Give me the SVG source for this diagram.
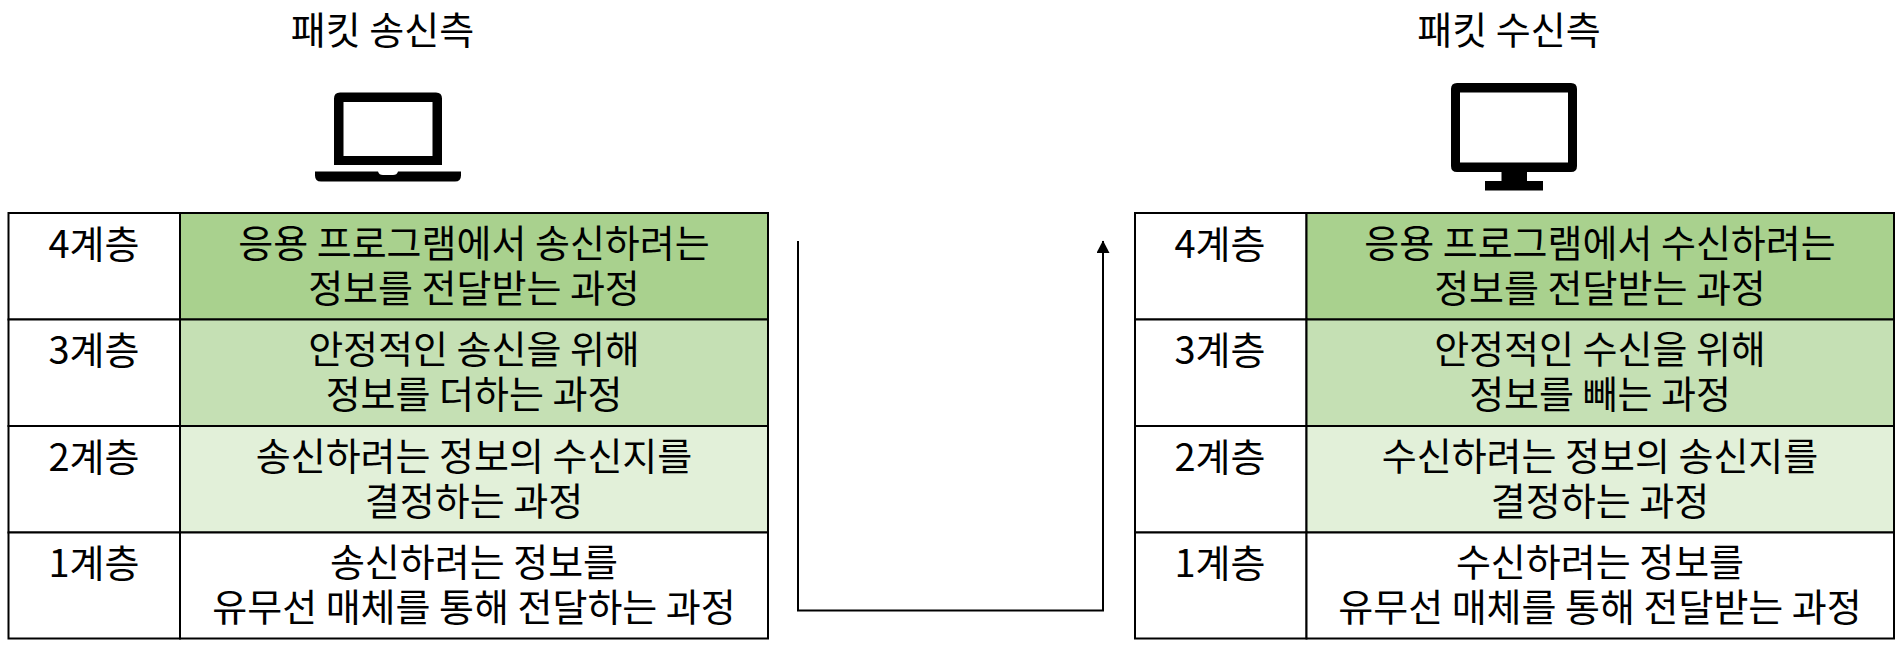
<svg xmlns="http://www.w3.org/2000/svg" width="1900" height="646" viewBox="0 0 1900 646">
<style>
text{font-family:"Noto Sans CJK KR","Noto Sans",sans-serif;font-size:38px;fill:#000;text-anchor:middle}
.cell{stroke:#000;stroke-width:2}
.w{fill:#fff}.g1{fill:#a9d18e}.g2{fill:#c5e0b4}.g3{fill:#e2f0d9}
.conn{fill:none;stroke:#000;stroke-width:2}
</style>
<defs><marker id="arrow" markerUnits="userSpaceOnUse" markerWidth="14" markerHeight="14" refX="12" refY="6.5" orient="auto"><path d="M0 0L12.500 6.500L0 13Z" fill="#000"/></marker></defs>
<rect width="1900" height="646" fill="#fff"/>
<g id="sender-title"><text x="382.500" y="44">패킷 송신측</text></g>
<g id="receiver-title"><text x="1509" y="44">패킷 수신측</text></g>
<g id="laptop"><path fill-rule="evenodd" d="M340 92.500H436Q442 92.500 442 98.500V165H334V98.500Q334 92.500 340 92.500ZM343.500 102V156H432.500V102Z"/><path d="M315 171.500H378Q379 175 383 175H393Q397 175 398 171.500H461V175.500Q461 181.500 455 181.500H321Q315 181.500 315 175.500Z"/></g>
<g id="monitor"><path fill-rule="evenodd" d="M1457 83H1571Q1577 83 1577 89V166Q1577 172 1571 172H1527V181H1543V190.500H1485V181H1501.500V172H1457Q1451 172 1451 166V89Q1451 83 1457 83ZM1460 92.500V162.500H1568V92.500Z"/></g>
<g id="s4"><rect class="cell w" x="8.500" y="213" width="171.500" height="106.500"/><rect class="cell g1" x="180" y="213" width="588" height="106.500"/><text x="94" y="257.500">4계층</text><text x="474" y="256.500">응용 프로그램에서 송신하려는</text><text x="474" y="302">정보를 전달받는 과정</text></g>
<g id="s3"><rect class="cell w" x="8.500" y="319.500" width="171.500" height="106.500"/><rect class="cell g2" x="180" y="319.500" width="588" height="106.500"/><text x="94" y="363.500">3계층</text><text x="474" y="362.500">안정적인 송신을 위해</text><text x="474" y="408">정보를 더하는 과정</text></g>
<g id="s2"><rect class="cell w" x="8.500" y="426" width="171.500" height="106.500"/><rect class="cell g3" x="180" y="426" width="588" height="106.500"/><text x="94" y="470.500">2계층</text><text x="474" y="469.500">송신하려는 정보의 수신지를</text><text x="474" y="515">결정하는 과정</text></g>
<g id="s1"><rect class="cell w" x="8.500" y="532.500" width="171.500" height="106"/><rect class="cell w" x="180" y="532.500" width="588" height="106"/><text x="94" y="576.500">1계층</text><text x="474" y="575.500">송신하려는 정보를</text><text x="474" y="621">유무선 매체를 통해 전달하는 과정</text></g>
<g id="r4"><rect class="cell w" x="1135" y="213" width="171.500" height="106.500"/><rect class="cell g1" x="1306.500" y="213" width="587.500" height="106.500"/><text x="1220" y="257.500">4계층</text><text x="1600" y="256.500">응용 프로그램에서 수신하려는</text><text x="1600" y="302">정보를 전달받는 과정</text></g>
<g id="r3"><rect class="cell w" x="1135" y="319.500" width="171.500" height="106.500"/><rect class="cell g2" x="1306.500" y="319.500" width="587.500" height="106.500"/><text x="1220" y="363.500">3계층</text><text x="1600" y="362.500">안정적인 수신을 위해</text><text x="1600" y="408">정보를 빼는 과정</text></g>
<g id="r2"><rect class="cell w" x="1135" y="426" width="171.500" height="106.500"/><rect class="cell g3" x="1306.500" y="426" width="587.500" height="106.500"/><text x="1220" y="470.500">2계층</text><text x="1600" y="469.500">수신하려는 정보의 송신지를</text><text x="1600" y="515">결정하는 과정</text></g>
<g id="r1"><rect class="cell w" x="1135" y="532.500" width="171.500" height="106"/><rect class="cell w" x="1306.500" y="532.500" width="587.500" height="106"/><text x="1220" y="576.500">1계층</text><text x="1600" y="575.500">수신하려는 정보를</text><text x="1600" y="621">유무선 매체를 통해 전달받는 과정</text></g>
<g id="connectors"><path class="conn" d="M798 241V610.500H1103V241" marker-end="url(#arrow)"/></g>
</svg>
